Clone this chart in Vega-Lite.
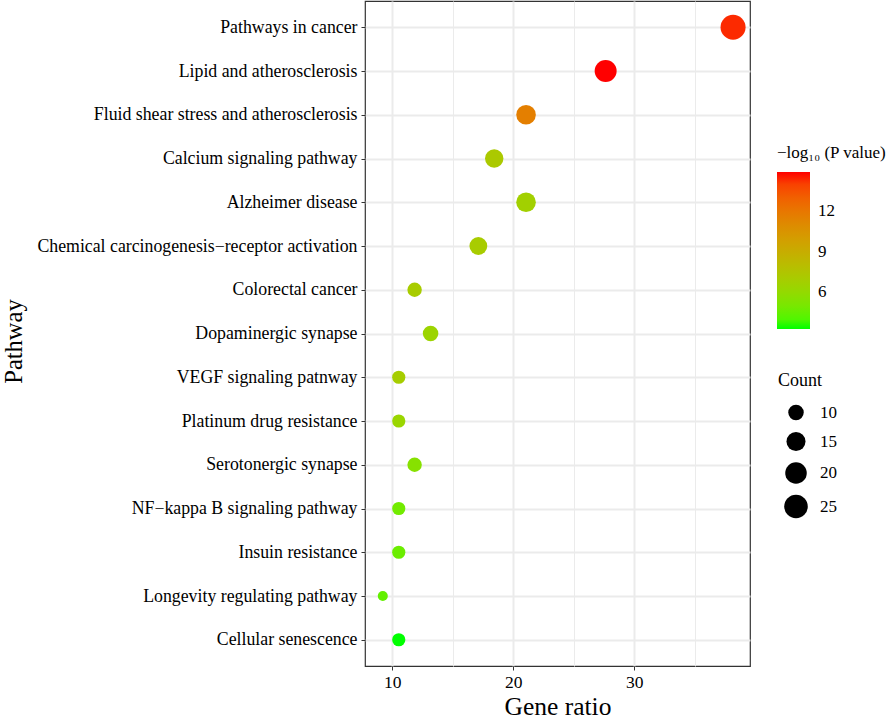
{
  "$schema": "https://vega.github.io/schema/vega-lite/v6.json",
  "width": 385,
  "height": 665,
  "autosize": "none",
  "padding": {"left": 365, "top": 1, "right": 136, "bottom": 56},
  "background": "white",
  "config": {
    "font": "Liberation Serif",
    "view": {"stroke": "#333333", "strokeWidth": 1.2}
  },
  "data": {
    "values": [
      {"Pathway": "Pathways in cancer", "GeneRatio": 38.16, "Count": 29, "logP": 14.5},
      {"Pathway": "Lipid and atherosclerosis", "GeneRatio": 27.63, "Count": 21, "logP": 14.9},
      {"Pathway": "Fluid shear stress and atherosclerosis", "GeneRatio": 21.05, "Count": 16, "logP": 11.6},
      {"Pathway": "Calcium signaling pathway", "GeneRatio": 18.42, "Count": 14, "logP": 7.2},
      {"Pathway": "Alzheimer disease", "GeneRatio": 21.05, "Count": 16, "logP": 6.7},
      {"Pathway": "Chemical carcinogenesis−receptor activation", "GeneRatio": 17.11, "Count": 13, "logP": 7.0},
      {"Pathway": "Colorectal cancer", "GeneRatio": 11.84, "Count": 9, "logP": 7.0},
      {"Pathway": "Dopaminergic synapse", "GeneRatio": 13.16, "Count": 10, "logP": 6.4},
      {"Pathway": "VEGF signaling patnway", "GeneRatio": 10.53, "Count": 8, "logP": 6.9},
      {"Pathway": "Platinum drug resistance", "GeneRatio": 10.53, "Count": 8, "logP": 6.3},
      {"Pathway": "Serotonergic synapse", "GeneRatio": 11.84, "Count": 9, "logP": 5.5},
      {"Pathway": "NF−kappa B signaling pathway", "GeneRatio": 10.53, "Count": 8, "logP": 4.8},
      {"Pathway": "Insuin resistance", "GeneRatio": 10.53, "Count": 8, "logP": 4.6},
      {"Pathway": "Longevity regulating pathway", "GeneRatio": 9.21, "Count": 7, "logP": 4.4},
      {"Pathway": "Cellular senescence", "GeneRatio": 10.53, "Count": 8, "logP": 3.3}
    ]
  },
  "mark": {"type": "circle", "opacity": 1},
  "encoding": {
    "y": {
      "field": "Pathway",
      "type": "nominal",
      "sort": null,
      "scale": {"type": "point", "padding": 0.6},
      "axis": {
        "title": "Pathway",
        "titleFontSize": 24.5,
        "titleFontWeight": "normal",
        "titleColor": "black",
        "titleX": -339,
        "titleY": 340,
        "labelFontSize": 17.8,
        "labelLimit": 400,
        "labelColor": "black",
        "labelPadding": 4,
        "tickColor": "#333333",
        "tickSize": 4,
        "domain": false,
        "grid": true,
        "gridColor": "#EBEBEB",
        "gridWidth": 2
      }
    },
    "x": {
      "field": "GeneRatio",
      "type": "quantitative",
      "scale": {"domain": [7.74, 39.56], "nice": false, "zero": false},
      "axis": {
        "title": "Gene ratio",
        "titleFontSize": 25.5,
        "titleFontWeight": "normal",
        "titleColor": "black",
        "titlePadding": 4,
        "values": [10, 15, 20, 25, 30, 35],
        "labelExpr": "datum.value % 10 == 0 ? datum.label : ''",
        "labelFontSize": 17.5,
        "labelColor": "black",
        "labelPadding": 3,
        "tickColor": {"condition": {"test": "datum.value % 10 == 0", "value": "#333333"}, "value": "transparent"},
        "tickSize": 4,
        "domain": false,
        "grid": true,
        "gridColor": "#EBEBEB",
        "gridWidth": {"condition": {"test": "datum.value % 10 == 0", "value": 2}, "value": 1}
      }
    },
    "color": {
      "field": "logP",
      "type": "quantitative",
      "scale": {"domain": [3.3, 14.9], "range": ["#00FF00", "#FF0000"], "interpolate": "lab"},
      "legend": {
        "title": "−log₁₀ (P value)",
        "orient": "none",
        "legendX": 412,
        "legendY": 144,
        "direction": "vertical",
        "titleFontSize": 17,
        "titleFontWeight": "normal",
        "titleColor": "black",
        "titlePadding": 10,
        "gradientLength": 157,
        "gradientThickness": 33,
        "gradientStrokeWidth": 0,
        "values": [6, 9, 12],
        "labelFontSize": 17,
        "labelColor": "black",
        "labelOffset": 8
      }
    },
    "size": {
      "field": "Count",
      "type": "quantitative",
      "scale": {"domain": [7, 8, 10, 13, 16, 21, 29], "range": [100, 174, 240, 317, 384, 484, 625]},
      "legend": {
        "title": "Count",
        "orient": "none",
        "legendX": 413,
        "legendY": 371,
        "values": [10, 15, 20, 25],
        "titleFontSize": 18,
        "titleFontWeight": "normal",
        "titleColor": "black",
        "titlePadding": 14,
        "labelFontSize": 17,
        "labelColor": "black",
        "labelOffset": 12,
        "rowPadding": 10.5,
        "symbolOffset": 6,
        "symbolFillColor": "black",
        "symbolStrokeWidth": 0,
        "symbolType": "circle"
      }
    }
  }
}
